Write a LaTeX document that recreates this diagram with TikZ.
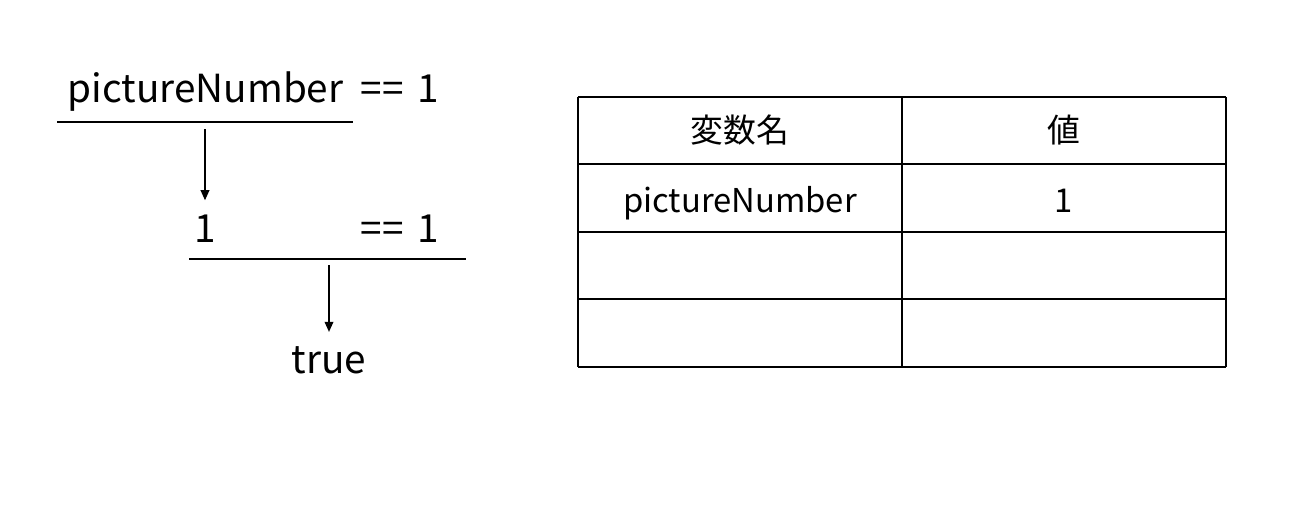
\documentclass[tikz,border=0pt]{standalone}
\usepackage{fontspec}
\setmainfont{Noto Sans CJK JP}
\usetikzlibrary{arrows.meta}
\tikzset{
  expr/.style={inner sep=0pt, font=\fontsize{29}{34}\selectfont},
  cell/.style={inner sep=0pt, font=\fontsize{24.6}{30}\selectfont},
  flow/.style={->, line width=1pt, shorten >=10pt},
}

\begin{document}
\begin{tikzpicture}[x=0.75pt,y=-0.75pt,>={Triangle[length=7.5pt,width=6.5pt]},line width=1.3pt]
    \useasboundingbox (0,0) rectangle (1302,522);
    % evaluation steps
    \node[expr,anchor=base west] (var)   at (67,102)  {pictureNumber};
    \node[expr,anchor=base west] (cmp1)  at (360,102) {==\hspace{0.35em}1};
    \node[expr,anchor=base]      (one)   at (205,242) {1};
    \node[expr,anchor=base west] (cmp2)  at (360,242) {==\hspace{0.35em}1};
    \node[expr,anchor=base]      (res)   at (329,373) {true};
    \draw (57,122) -- (353,122);
    \draw (189,259) -- (466,259);
    \coordinate (s1) at (205,129);
    \coordinate (s2) at (329,265);
    \draw[flow] (s1) -- (s1 |- one.north);
    \draw[flow] (s2) -- (s2 |- res.north);
    %
    % variable table
    \foreach \y in {97,164,232,299,367}
      \draw (578,\y) -- (1226,\y);
    \foreach \x in {578,902,1226}
      \draw (\x,97) -- (\x,367);
    \node[cell] (hname)  at (740,130)  {変数名};
    \node[cell] (hval)   at (1064,130) {値};
    \node[cell,anchor=base] (vname) at (740,212)  {pictureNumber};
    \node[cell,anchor=base] (vval)  at (1064,212) {1};
\end{tikzpicture}
\end{document}
